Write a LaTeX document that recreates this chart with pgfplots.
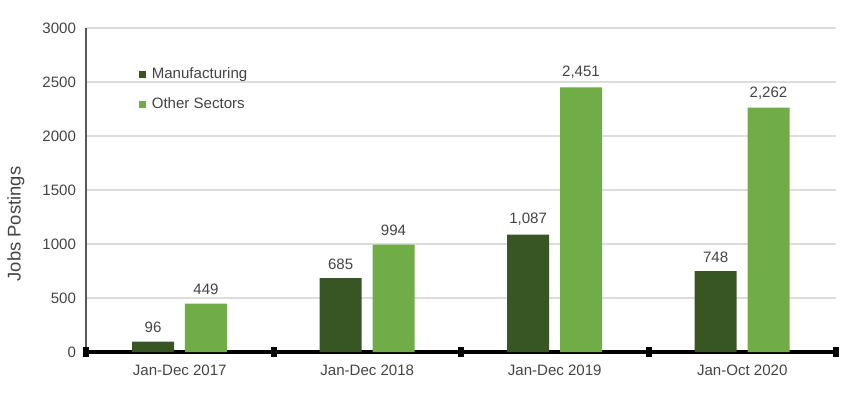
\documentclass[border=0pt]{standalone}
\usepackage{fontspec}
\setmainfont{Liberation Sans}
\usepackage{pgfplots}
\pgfplotsset{compat=1.18}
\usetikzlibrary{calc}
\definecolor{darkg}{HTML}{375623}
\definecolor{lightg}{HTML}{70AD47}
\definecolor{txt}{HTML}{444444}
\definecolor{axgray}{HTML}{595959}
\definecolor{gridc}{HTML}{DDDDDD}
\begin{document}
\begin{tikzpicture}
\begin{axis}[
  name=ax,
  scale only axis,
  width=562.5pt, height=243pt,
  xmin=-0.5, xmax=3.5,
  ymin=0, ymax=3000,
  ytick={0,500,...,3000},
  axis lines=left,
  axis line style={-},
  x axis line style={black, line width=3pt},
  y axis line style={axgray, line width=1.5pt},
  ymajorgrids,
  grid style={gridc, line width=0.8pt},
  xtick={0,1,2,3},
  xticklabels={Jan-Dec 2017,Jan-Dec 2018,Jan-Dec 2019,Jan-Oct 2020},
  major tick length=0pt,
  extra x ticks={-0.5,0.5,1.5,2.5,3.5},
  extra x tick labels={},
  extra x tick style={grid=none, major tick length=7pt, tick align=center, tick style={draw=black, line width=4.5pt}},
  font=\fontsize{11.3pt}{13pt}\selectfont,
  tick label style={txt},
  /pgf/number format/assume math mode=true,
  yticklabel style={/pgf/number format/1000 sep={}, xshift=-4pt},
  xticklabel style={yshift=-6pt},
  ylabel={Jobs Postings},
  ylabel style={txt, font=\fontsize{13.8pt}{16pt}\selectfont, at={(axis description cs:-0.0935,0.395)}, anchor=center},
  ybar,
  bar width=0.224,
  nodes near coords,
  every node near coord/.append style={txt, /pgf/number format/1000 sep={,}, /pgf/number format/assume math mode=true, yshift=3pt},
  legend style={draw=none, fill=none, at={(0.065,0.895)}, anchor=north west, row sep=9pt, font=\fontsize{11.3pt}{13pt}\selectfont, text=txt, legend cell align=left},
  legend image code/.code={\fill (0pt,-2.6pt) rectangle (5.2pt,2.6pt); \path (7.6pt,0pt);},
]
\addplot[fill=darkg, draw=none, bar shift=-0.142] coordinates {(0,96) (1,685) (2,1087) (3,748)};
\addplot[fill=lightg, draw=none, bar shift=0.14] coordinates {(0,449) (1,994) (2,2451) (3,2262)};
\legend{Manufacturing, Other Sectors}
\end{axis}
\pgfresetboundingbox
\path ($(ax.south west)+(-64.5pt,-30.75pt)$) rectangle ($(ax.north east)+(10.5pt,21pt)$);
\end{tikzpicture}
\end{document}
